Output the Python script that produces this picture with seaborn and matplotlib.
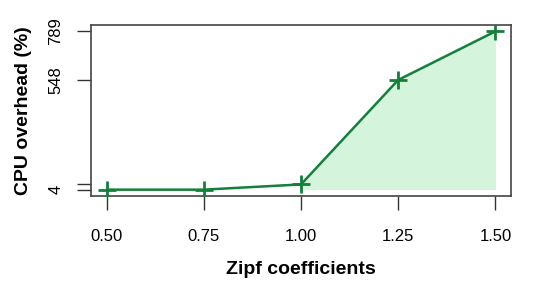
import matplotlib
matplotlib.use("Agg")
import matplotlib.pyplot as plt
import seaborn as sns
import pandas as pd

# data
zipf = [0.50, 0.75, 1.00, 1.25, 1.50]
cpu_overhead = [4, 4, 30, 548, 789]
x_ticks = [0.50, 0.75, 1.00, 1.25, 1.50]
x_labels = ["0.50", "0.75", "1.00", "1.25", "1.50"]
y_ticks = [4, 30, 548, 789]
y_labels = ["4", "", "548", "789"]

line_color = "#12803a"
fill_color = "#d4f5dc"

df = pd.DataFrame({"zipf": zipf, "cpu": cpu_overhead})

sns.set_style("white")
plt.rcParams["font.family"] = ["Liberation Sans", "DejaVu Sans"]

fig = plt.figure(figsize=(5.5, 3), dpi=100)
ax = fig.add_axes([0.1655, 0.3467, 0.7636, 0.57])

# shaded area from the knee (zipf >= 1.0) down to the lowest value
tail = df[df["zipf"] >= 1.0]
ax.fill_between(tail["zipf"], tail["cpu"], min(cpu_overhead),
                color=fill_color, linewidth=0, zorder=1)

sns.lineplot(data=df, x="zipf", y="cpu", ax=ax, color=line_color,
             linewidth=1.8, marker="+", markersize=13, markeredgewidth=2,
             markeredgecolor=line_color, zorder=3)

xr = max(zipf) - min(zipf)
yr = max(cpu_overhead) - min(cpu_overhead)
ax.set_xlim(min(zipf) - 0.04 * xr, max(zipf) + 0.04 * xr)
ax.set_ylim(min(cpu_overhead) - 0.04 * yr, max(cpu_overhead) + 0.04 * yr)

ax.set_xticks(x_ticks)
ax.set_xticklabels(x_labels)
ax.set_yticks(y_ticks)
ax.set_yticklabels(y_labels, rotation=90, va="center")

ax.tick_params(axis="both", direction="out", length=10, width=1,
               bottom=True, left=True, color="#333333",
               labelsize=12, labelcolor="black")
ax.tick_params(axis="x", pad=14)
ax.tick_params(axis="y", pad=10)

for s in ax.spines.values():
    s.set_visible(True)
    s.set_color("#444444")
    s.set_linewidth(1.2)

ax.set_xlabel("Zipf coefficients", fontsize=14, fontweight="bold",
              labelpad=12, color="black")
ax.set_ylabel("CPU overhead (%)", fontsize=14, fontweight="bold",
              labelpad=12, color="black")

fig.savefig("out.png", dpi=100)
